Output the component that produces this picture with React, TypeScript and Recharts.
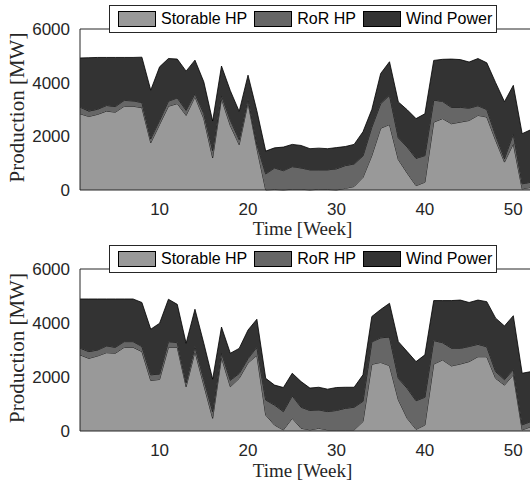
import { Area, AreaChart, XAxis, YAxis } from "recharts"

// weeks of the year (x axis)
const weeks = [
  1, 2, 3, 4, 5, 6, 7, 8, 9, 10, 11, 12, 13, 14, 15, 16, 17, 18, 19, 20, 21, 22, 23, 24, 25, 26,
  27, 28, 29, 30, 31, 32, 33, 34, 35, 36, 37, 38, 39, 40, 41, 42, 43, 44, 45, 46, 47, 48, 49, 50, 51, 52,
]

// upper panel [MW]
const storableTop = [
  2840, 2740, 2820, 2940, 2900, 3120, 3120, 3070, 1760, 2440, 3120, 3220, 2780, 3470, 2660, 1200, 3400, 2400,
  1690, 3250, 1550, 0, 20, 0, 30, 30, 0, 30, 20, 0, 60, 130, 470, 1280, 2300, 2440, 1130, 630, 160, 290, 2530,
  2660, 2470, 2530, 2590, 2780, 2720, 1850, 1040, 1720, 40, 100,
]
const rorTop = [
  250, 200, 190, 210, 210, 220, 200, 190, 150, 150, 190, 210, 190, 120, 190, 270, 130, 200, 190, 150, 150, 600,
  800, 720, 840, 790, 750, 720, 730, 790, 850, 840, 800, 1060, 920, 1090, 810, 970, 1020, 990, 820, 640, 610,
  550, 460, 360, 280, 190, 130, 370, 190, 190,
]
const windTop = [
  1830, 1990, 1930, 1790, 1830, 1600, 1620, 1690, 1810, 2000, 1590, 1450, 1460, 1250, 1180, 1100, 1090, 1100,
  1050, 880, 1250, 850, 750, 880, 830, 840, 790, 810, 790, 790, 710, 730, 900, 660, 1120, 1250, 1340, 1390,
  1480, 1560, 1480, 1570, 1800, 1780, 1720, 1760, 1740, 1960, 2120, 1810, 1870, 1960,
]

// lower panel [MW]
const storableBottom = [
  2820, 2690, 2780, 2900, 2880, 3100, 3100, 2940, 1870, 1910, 3100, 3100, 1640, 2940, 1700, 470, 2720, 1640,
  1950, 2520, 2800, 590, 220, 40, 470, 100, 40, 100, 40, 40, 40, 40, 350, 2470, 2540, 2420, 1150, 470, 60, 220,
  2480, 2630, 2410, 2480, 2570, 2750, 2750, 1950, 1700, 2080, 40, 160,
]
const rorBottom = [
  250, 250, 220, 250, 220, 210, 210, 190, 210, 200, 210, 170, 150, 190, 210, 250, 180, 240, 180, 160, 300, 560,
  740, 680, 830, 780, 720, 680, 680, 720, 800, 840, 750, 830, 910, 1060, 800, 1110, 1060, 1030, 870, 640, 660,
  580, 560, 460, 370, 250, 200, 190, 190, 190,
]
const windBottom = [
  1820, 1950, 1890, 1740, 1790, 1580, 1580, 1630, 1690, 1880, 1570, 1420, 1460, 1380, 1340, 1200, 950, 1000,
  930, 1060, 1040, 800, 740, 890, 840, 950, 830, 840, 830, 850, 780, 740, 980, 940, 1050, 1250, 1360, 1360,
  1450, 1570, 1480, 1560, 1760, 1790, 1630, 1640, 1670, 1980, 1990, 2000, 1910, 1850,
]

const weekTicks = [10, 20, 30, 40, 50]
const productionTicks = [0, 2000, 4000, 6000]

const series = [
  { key: "storable", name: "Storable HP", color: "#999999" },
  { key: "ror", name: "RoR HP", color: "#666666" },
  { key: "wind", name: "Wind Power", color: "#333333" },
]

const axisColor = "#262626"

const buildRows = (storable: number[], ror: number[], wind: number[]) =>
  weeks.map((week, i) => ({ week, storable: storable[i], ror: ror[i], wind: wind[i] }))

const LegendBox = () => (
  <div
    style={{
      position: "absolute",
      left: 109,
      top: 5,
      width: 388,
      height: 28,
      boxSizing: "border-box",
      border: `1px solid ${axisColor}`,
      background: "#fff",
      display: "flex",
      alignItems: "center",
      paddingLeft: 8,
      fontFamily: "'Liberation Sans', Arial, sans-serif",
      fontSize: 16,
      color: "#000",
      whiteSpace: "nowrap",
    }}
  >
    {series.map((s) => (
      <div key={s.key} style={{ display: "flex", alignItems: "center" }}>
        <span
          style={{
            width: 38,
            height: 16,
            boxSizing: "border-box",
            border: "1px solid #000",
            background: s.color,
            marginRight: 5,
          }}
        />
        <span style={{ marginRight: 7 }}>{s.name}</span>
      </div>
    ))}
  </div>
)

interface PanelProps {
  storable: number[]
  ror: number[]
  wind: number[]
  xAxisHeight: number
  titleOffset: number
}

const Panel = ({ storable, ror, wind, xAxisHeight, titleOffset }: PanelProps) => {
  const rows = buildRows(storable, ror, wind)
  return (
    <div style={{ position: "relative", width: 530, height: 240 }}>
      <AreaChart width={560} height={240} data={rows} margin={{ top: 9, right: 0, bottom: 0, left: 0 }}>
        {series.map((s) => (
          <Area
            key={s.key}
            type="linear"
            dataKey={s.key}
            name={s.name}
            stackId="production"
            fill={s.color}
            fillOpacity={1}
            stroke="#000"
            strokeWidth={0.8}
            dot={false}
            activeDot={false}
            isAnimationActive={false}
          />
        ))}
        <XAxis
          dataKey="week"
          type="number"
          domain={[1, 52]}
          ticks={weekTicks}
          height={xAxisHeight}
          tickLine={false}
          tickSize={0}
          tickMargin={13}
          axisLine={{ stroke: axisColor }}
          tick={{ fill: axisColor, fontSize: 17, fontFamily: "'Liberation Sans', Arial" }}
          label={{
            value: "Time [Week]",
            position: "insideBottom",
            offset: titleOffset,
            dx: -3,
            fill: axisColor,
            fontSize: 19,
            fontFamily: "'Liberation Serif', 'Times New Roman', serif",
          }}
        />
        <XAxis
          xAxisId="top"
          orientation="top"
          dataKey="week"
          type="number"
          domain={[1, 52]}
          ticks={weekTicks}
          height={20}
          tick={false}
          tickSize={-5}
          tickLine={{ stroke: axisColor }}
          axisLine={{ stroke: axisColor }}
        />
        <YAxis
          domain={[0, 6000]}
          ticks={productionTicks}
          width={80}
          tickLine={false}
          tickSize={0}
          tickMargin={10}
          axisLine={{ stroke: axisColor }}
          tick={{ fill: axisColor, fontSize: 17, fontFamily: "'Liberation Sans', Arial" }}
          label={{
            value: "Production [MW]",
            angle: -90,
            position: "insideLeft",
            offset: 17,
            dy: -2,
            style: {
              textAnchor: "middle",
              fill: axisColor,
              fontSize: 21,
              fontFamily: "'Liberation Serif', 'Times New Roman', serif",
            },
          }}
        />
        <YAxis
          yAxisId="right"
          orientation="right"
          domain={[0, 6000]}
          ticks={productionTicks}
          width={29}
          tick={false}
          tickSize={-5}
          tickLine={{ stroke: axisColor }}
          axisLine={{ stroke: axisColor }}
        />
      </AreaChart>
      <LegendBox />
    </div>
  )
}

const App = () => {
  return (
    <div
      style={{
        position: "absolute",
        left: 0,
        top: 0,
        width: 530,
        height: 487,
        overflow: "hidden",
        background: "#fff",
      }}
    >
      <Panel storable={storableTop} ror={rorTop} wind={windTop} xAxisHeight={50} titleOffset={5} />
      <Panel storable={storableBottom} ror={rorBottom} wind={windBottom} xAxisHeight={49} titleOffset={3} />
    </div>
  )
}

export default App
